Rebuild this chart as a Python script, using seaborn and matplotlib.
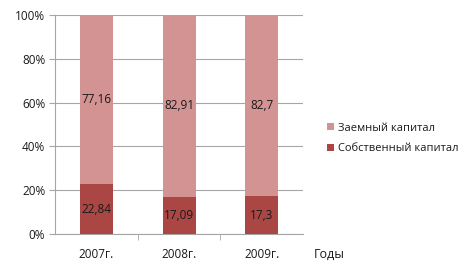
import matplotlib
matplotlib.use("Agg")
import matplotlib.pyplot as plt
import seaborn as sns
import pandas as pd
from matplotlib.patches import Patch
from matplotlib.ticker import FixedLocator, PercentFormatter

years = ["2007г.", "2008г.", "2009г."]
own = [22.84, 17.09, 17.3]
borrowed = [77.16, 82.91, 82.7]
own_labels = ["22,84", "17,09", "17,3"]
borrowed_labels = ["77,16", "82,91", "82,7"]
series_names = ["Заемный капитал", "Собственный капитал"]

c_light = "#D39393"
c_dark = "#AA4644"
grid_c = "#A6A6A6"

sns.set_style("white")
plt.rcParams["font.family"] = ["Open Sans", "DejaVu Sans"]

df = pd.DataFrame({"year": years, "own": own, "borrowed": borrowed})
df["total"] = df["own"] + df["borrowed"]

fig = plt.figure(figsize=(4.7, 2.78), dpi=100)
ax = fig.add_axes([0.117, 0.158, 0.528, 0.788])

sns.barplot(data=df, x="year", y="total", color=c_light, width=0.4,
            saturation=1, ax=ax, zorder=3, edgecolor="none")
sns.barplot(data=df, x="year", y="own", color=c_dark, width=0.4,
            saturation=1, ax=ax, zorder=4, edgecolor="none")

for i in range(len(years)):
    ax.text(i, own[i] / 2, own_labels[i], ha="center", va="center",
            fontsize=8.5, color="#1a1a1a", zorder=5)
    ax.text(i, own[i] + borrowed[i] / 2, borrowed_labels[i], ha="center",
            va="center", fontsize=8.5, color="#1a1a1a", zorder=5)

ax.set_xlim(-0.5, 2.5)
ax.set_ylim(0, 100)
ax.set_yticks([0, 20, 40, 60, 80, 100])
ax.yaxis.set_major_formatter(PercentFormatter(decimals=0))
ax.yaxis.grid(True, color=grid_c, linewidth=0.8, zorder=0)
ax.set_axisbelow(True)
ax.set_xlabel("")
ax.set_ylabel("")

for s in ["top", "right"]:
    ax.spines[s].set_visible(False)
for s in ["left", "bottom"]:
    ax.spines[s].set_color(grid_c)
    ax.spines[s].set_linewidth(0.8)

ax.tick_params(axis="y", which="major", length=4, color=grid_c, direction="out",
               labelsize=8.5, labelcolor="#1a1a1a", pad=3, left=True)
ax.tick_params(axis="x", which="major", length=0, labelsize=8.5,
               labelcolor="#1a1a1a", pad=10)
ax.xaxis.set_minor_locator(FixedLocator([0.5, 1.5]))
ax.tick_params(axis="x", which="minor", length=4, color=grid_c,
               direction="out", bottom=True)

handles = [Patch(facecolor=c_light, edgecolor="none"),
           Patch(facecolor=c_dark, edgecolor="none")]
fig.legend(handles, series_names, loc="upper left",
           bbox_to_anchor=(0.675, 0.595), frameon=False, fontsize=8,
           handlelength=0.6, handleheight=0.6, handletextpad=0.4,
           labelspacing=0.85, labelcolor="#1a1a1a")

fig.text(0.668, 0.085, "Годы", fontsize=9, color="#1a1a1a", ha="left",
         va="center")

fig.savefig("out.png", dpi=100)
